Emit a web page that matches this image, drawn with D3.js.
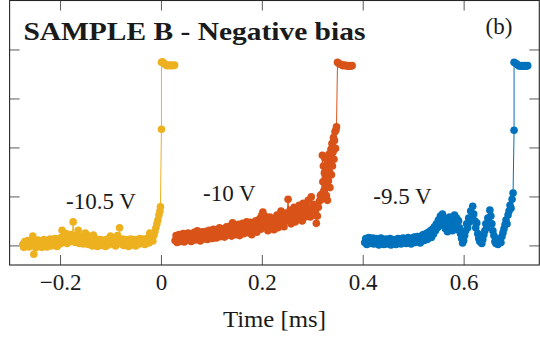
<!DOCTYPE html>
<html>
<head>
<meta charset="utf-8">
<script src="https://cdn.jsdelivr.net/npm/d3@7"></script>
<style>
  html, body { margin: 0; padding: 0; background: #fff; }
  svg { display: block; }
  text { font-family: "Liberation Serif", "Times New Roman", serif; fill: #1a1a1a; }
</style>
</head>
<body>
<svg id="chart" width="540" height="346"></svg>
<script>
// Time (ms) and normalised signal for the three bias voltages
const tYellow = [
  -0.274,-0.272,-0.270,-0.268,-0.266,-0.264,-0.262,-0.260,-0.258,-0.256,
  -0.254,-0.252,-0.250,-0.248,-0.246,-0.244,-0.242,-0.240,-0.238,-0.236,
  -0.234,-0.232,-0.230,-0.228,-0.226,-0.224,-0.222,-0.220,-0.218,-0.216,
  -0.214,-0.212,-0.210,-0.208,-0.206,-0.204,-0.202,-0.200,-0.198,-0.196,
  -0.194,-0.192,-0.190,-0.188,-0.186,-0.184,-0.182,-0.180,-0.178,-0.176,
  -0.174,-0.172,-0.170,-0.168,-0.166,-0.164,-0.162,-0.160,-0.158,-0.156,
  -0.154,-0.152,-0.150,-0.148,-0.146,-0.144,-0.142,-0.140,-0.138,-0.136,
  -0.134,-0.132,-0.130,-0.128,-0.126,-0.124,-0.122,-0.120,-0.118,-0.116,
  -0.114,-0.112,-0.110,-0.108,-0.106,-0.104,-0.102,-0.100,-0.098,-0.096,
  -0.094,-0.092,-0.090,-0.088,-0.086,-0.084,-0.082,-0.080,-0.078,-0.076,
  -0.074,-0.072,-0.070,-0.068,-0.066,-0.064,-0.062,-0.060,-0.058,-0.056,
  -0.054,-0.052,-0.050,-0.048,-0.046,-0.044,-0.042,-0.040,-0.038,-0.036,
  -0.034,-0.032,-0.030,-0.028,-0.026,-0.024,-0.022,-0.020,-0.018,-0.016,
  -0.014,-0.012,-0.010,-0.008,-0.006,-0.004,-0.002,
  -0.001,0.001,0.001,0.003,0.006,0.009,0.012,0.015,0.018,0.021,0.024,0.027];
const vYellow = [
  0.02,-0.04,0.08,-0.02,0.05,0.10,-0.03,0.06,0.00,0.09,
  0.19,-0.18,0.04,-0.05,0.07,0.11,-0.02,0.05,0.09,-0.04,
  0.06,0.12,0.00,0.08,-0.03,0.10,0.04,0.13,-0.01,0.07,
  0.11,0.02,0.14,0.05,-0.02,0.09,0.13,0.03,0.16,0.31,
  0.06,0.18,0.10,0.24,0.04,0.14,0.20,0.08,0.22,0.12,
  0.48,0.15,0.06,0.20,0.10,0.31,0.04,0.16,0.09,0.19,
  0.03,0.14,0.25,0.07,0.21,0.02,0.12,0.06,0.15,-0.01,
  0.21,0.08,0.03,0.13,-0.02,0.10,0.05,0.12,0.00,0.09,
  0.04,0.11,-0.02,0.08,0.13,0.01,0.07,0.19,0.03,0.10,
  0.05,0.12,-0.01,0.09,0.20,0.06,0.36,0.11,0.03,0.13,
  0.00,0.08,0.12,0.02,0.10,-0.02,0.07,0.13,0.01,0.09,
  0.05,0.12,-0.01,0.08,0.11,0.03,0.14,0.04,0.10,0.06,
  0.13,0.02,0.11,0.07,0.15,0.05,0.25,0.12,0.18,0.09,
  0.20,0.28,0.36,0.44,0.52,0.62,0.70,
  0.79,2.37,3.74,3.75,3.72,3.69,3.67,3.68,3.67,3.68,3.67,3.68];

const tOrange = [
  0.028,0.030,0.032,0.034,0.036,0.038,0.040,0.042,0.044,0.046,
  0.048,0.050,0.052,0.054,0.056,0.058,0.060,0.062,0.064,0.066,
  0.068,0.070,0.072,0.074,0.076,0.078,0.080,0.082,0.084,0.086,
  0.088,0.090,0.092,0.094,0.096,0.098,0.100,0.102,0.104,0.106,
  0.108,0.110,0.112,0.114,0.116,0.118,0.120,0.122,0.124,0.126,
  0.128,0.130,0.132,0.134,0.136,0.138,0.140,0.142,0.144,0.146,
  0.148,0.150,0.152,0.154,0.156,0.158,0.160,0.162,0.164,0.166,
  0.168,0.170,0.172,0.174,0.176,0.178,0.180,0.182,0.184,0.186,
  0.188,0.190,0.192,0.194,0.196,0.198,0.200,0.202,0.204,0.206,
  0.208,0.210,0.212,0.214,0.216,0.218,0.220,0.222,0.224,0.226,
  0.228,0.230,0.232,0.234,0.236,0.238,0.240,0.242,0.244,0.246,
  0.248,0.250,0.252,0.254,0.256,0.258,0.260,0.262,0.264,0.266,
  0.268,0.270,0.272,0.274,0.276,0.278,0.280,0.282,0.284,0.286,
  0.288,0.290,0.292,0.294,0.296,0.298,0.300,0.302,0.304,0.306,
  0.308,0.310,0.312,0.314,0.316,0.318,
  0.319,0.320,0.321,0.322,0.323,0.324,0.325,0.326,0.327,0.328,
  0.329,0.330,0.331,0.332,0.333,0.334,0.335,0.336,0.337,0.338,
  0.339,0.340,0.341,0.342,0.343,0.344,0.345,0.346,0.347,0.348,
  0.350,0.352,0.355,0.358,0.361,0.364,0.367,0.370,0.373,0.376,0.379];
const vOrange = [
  0.10,0.20,0.06,0.16,0.22,0.08,0.18,0.12,0.24,0.07,
  0.17,0.21,0.10,0.25,0.13,0.19,0.08,0.23,0.15,0.27,
  0.11,0.22,0.30,0.14,0.26,0.09,0.20,0.28,0.13,0.24,
  0.17,0.29,0.12,0.25,0.31,0.16,0.27,0.14,0.33,0.20,
  0.28,0.15,0.32,0.22,0.36,0.18,0.30,0.24,0.34,0.17,
  0.29,0.38,0.21,0.33,0.25,0.40,0.19,0.46,0.27,0.35,
  0.22,0.38,0.30,0.43,0.20,0.34,0.27,0.45,0.24,0.39,
  0.31,0.48,0.26,0.40,0.34,0.47,0.22,0.38,0.44,0.30,
  0.50,0.27,0.42,0.36,0.55,0.33,0.62,0.68,0.45,0.60,
  0.38,0.52,0.30,0.48,0.58,0.35,0.44,0.55,0.32,0.50,
  0.40,0.62,0.36,0.54,0.46,0.70,0.42,0.58,0.38,0.66,
  0.50,0.60,0.94,0.55,0.72,0.44,0.66,0.52,0.78,0.48,
  0.62,0.70,0.54,0.82,0.60,0.76,0.50,0.86,0.66,0.58,
  0.80,0.64,0.92,0.72,0.58,0.99,0.76,0.84,0.62,0.70,
  0.45,0.60,0.78,0.90,1.02,0.94,
  1.05,1.84,1.30,1.62,1.12,1.48,1.78,1.22,1.56,1.02,
  1.40,0.92,1.68,1.32,1.86,1.50,1.18,1.72,1.96,1.44,
  2.08,1.62,1.90,2.20,1.76,2.14,2.32,1.98,2.36,2.42,
  3.74,3.72,3.70,3.69,3.67,3.68,3.67,3.66,3.67,3.66,3.67];

const tBlue = [
  0.404,0.406,0.408,0.410,0.412,0.414,0.416,0.418,0.420,0.422,
  0.424,0.426,0.428,0.430,0.432,0.434,0.436,0.438,0.440,0.442,
  0.444,0.446,0.448,0.450,0.452,0.454,0.456,0.458,0.460,0.462,
  0.464,0.466,0.468,0.470,0.472,0.474,0.476,0.478,0.480,0.482,
  0.484,0.486,0.488,0.490,0.492,0.494,0.496,0.498,0.500,0.502,
  0.504,0.506,0.508,0.510,0.512,0.514,0.516,0.518,0.520,0.522,
  0.524,0.526,0.528,0.530,0.532,0.534,0.536,0.538,0.540,0.542,
  0.544,0.546,0.548,0.550,0.552,0.554,0.556,0.558,0.560,0.562,
  0.564,0.566,0.568,0.570,0.572,0.574,0.576,0.578,0.580,0.582,
  0.584,0.586,0.588,0.590,0.592,0.594,0.596,0.598,0.600,0.602,
  0.604,0.606,0.608,0.610,0.612,0.614,0.616,0.618,0.620,0.622,
  0.624,0.626,0.628,0.630,0.632,0.634,0.636,0.638,0.640,0.642,
  0.644,0.646,0.648,0.650,0.652,0.654,0.656,0.658,0.660,0.662,
  0.664,0.666,0.668,0.670,0.672,0.674,0.676,0.678,0.680,0.682,
  0.684,0.686,0.688,0.690,0.692,0.694,0.696,0.698,
  0.700,0.700,0.703,0.706,0.709,0.712,0.715,0.718,0.721,0.724,0.727];
const vBlue = [
  0.06,0.14,0.02,0.11,0.16,0.04,0.12,0.08,0.15,0.03,
  0.10,0.14,0.05,0.12,0.01,0.09,0.15,0.04,0.11,0.02,
  0.08,0.13,0.03,0.10,0.06,0.14,0.01,0.09,0.12,0.04,
  0.11,0.02,0.08,0.14,0.05,0.12,0.03,0.10,0.15,0.06,
  0.13,0.04,0.09,0.16,0.07,0.12,0.03,0.14,0.10,0.17,
  0.06,0.13,0.18,0.09,0.15,0.05,0.19,0.12,0.22,0.10,
  0.17,0.24,0.12,0.27,0.19,0.30,0.16,0.33,0.23,0.38,
  0.30,0.44,0.36,0.52,0.40,0.60,0.48,0.64,0.42,0.56,
  0.34,0.50,0.28,0.46,0.58,0.38,0.52,0.30,0.48,0.62,
  0.40,0.56,0.32,0.50,0.36,0.24,0.14,0.05,0.10,0.20,
  0.30,0.44,0.36,0.56,0.48,0.70,0.58,0.80,0.64,0.50,
  0.36,0.46,0.24,0.14,0.08,0.18,0.04,0.12,0.22,0.30,
  0.44,0.36,0.56,0.48,0.72,0.60,0.44,0.30,0.20,0.08,
  0.04,0.12,0.02,0.08,0.14,0.06,0.18,0.26,0.34,0.42,
  0.52,0.44,0.62,0.70,0.82,0.76,0.94,1.07,
  2.35,3.74,3.72,3.70,3.67,3.66,3.67,3.66,3.67,3.66,3.67];

const seriesNames = ["-10.5 V", "-10 V", "-9.5 V"];
const seriesColors = ["#EDB120", "#D95319", "#0072BD"];
const xTicks = [-0.2, 0, 0.2, 0.4, 0.6];
const xTickLabels = ["\u22120.2", "0", "0.2", "0.4", "0.6"];
const yTicks = [0, 1, 2, 3, 4];
const titleText = "SAMPLE B - Negative bias";
const panelTag = "(b)";
const xLabel = "Time [ms]";

const series = [
  { t: tYellow, v: vYellow },
  { t: tOrange, v: vOrange },
  { t: tBlue, v: vBlue }
].map((s, i) => ({
  name: seriesNames[i],
  color: seriesColors[i],
  points: s.t.map((t, k) => ({ t, v: s.v[k] }))
}));

const svg = d3.select("#chart");
const box = { left: 9.6, right: 539.3, top: 0.5, bottom: 265 };

const x = d3.scaleLinear().domain([-0.3, 0.75]).range([box.left, box.right]);
const y = d3.scaleLinear().domain([-0.4, 5]).range([box.bottom, box.top]);

// inward ticks on all four sides
const tickLen = 10;
const gBottom = svg.append("g").attr("transform", `translate(0,${box.bottom})`)
  .call(d3.axisBottom(x).tickValues(xTicks).tickSizeInner(-tickLen).tickSizeOuter(0)
    .tickPadding(9).tickFormat((d, i) => xTickLabels[i]));
const gTop = svg.append("g").attr("transform", `translate(0,${box.top})`)
  .call(d3.axisTop(x).tickValues(xTicks).tickSizeInner(-tickLen).tickSizeOuter(0).tickFormat(""));
const gLeft = svg.append("g").attr("transform", `translate(${box.left},0)`)
  .call(d3.axisLeft(y).tickValues(yTicks).tickSizeInner(-tickLen).tickSizeOuter(0).tickFormat(""));
const gRight = svg.append("g").attr("transform", `translate(${box.right},0)`)
  .call(d3.axisRight(y).tickValues(yTicks).tickSizeInner(-tickLen).tickSizeOuter(0).tickFormat(""));

[gBottom, gTop, gLeft, gRight].forEach(g => {
  g.select(".domain").remove();
  g.selectAll(".tick line").attr("stroke", "#5a5a5a").attr("stroke-width", 1);
});
gBottom.selectAll(".tick text")
  .attr("font-family", "Liberation Serif, serif")
  .attr("font-size", 23)
  .attr("fill", "#1a1a1a");

// data: thin connecting line plus filled circle markers
const line = d3.line().x(d => x(d.t)).y(d => y(d.v));
const gData = svg.append("g");
series.forEach(s => {
  gData.append("path")
    .attr("d", line(s.points))
    .attr("fill", "none")
    .attr("stroke", s.color)
    .attr("stroke-width", 1);
  gData.append("g").selectAll("circle")
    .data(s.points)
    .join("circle")
    .attr("cx", d => x(d.t))
    .attr("cy", d => y(d.v))
    .attr("r", 3.8)
    .attr("fill", s.color);
});

// frame
svg.append("rect")
  .attr("x", box.left).attr("y", box.top)
  .attr("width", box.right - box.left).attr("height", box.bottom - box.top)
  .attr("fill", "none").attr("stroke", "#262626").attr("stroke-width", 1.1);

// title and panel tag
svg.append("text")
  .attr("x", 23.4).attr("y", 39.5)
  .attr("font-size", 25).attr("font-weight", "bold")
  .attr("textLength", 342).attr("lengthAdjust", "spacingAndGlyphs")
  .text(titleText);
svg.append("text")
  .attr("x", 485.5).attr("y", 34)
  .attr("font-size", 23)
  .text(panelTag);

// voltage labels
const labelPos = [[66, 209.3], [203, 201], [373.3, 204]];
series.forEach((s, i) => {
  svg.append("text")
    .attr("x", labelPos[i][0]).attr("y", labelPos[i][1])
    .attr("font-size", 23)
    .text(s.name);
});

// axis title
svg.append("text")
  .attr("x", (box.left + box.right) / 2).attr("y", 327)
  .attr("text-anchor", "middle")
  .attr("font-size", 23)
  .attr("textLength", 103).attr("lengthAdjust", "spacingAndGlyphs")
  .text(xLabel);
</script>
</body>
</html>
